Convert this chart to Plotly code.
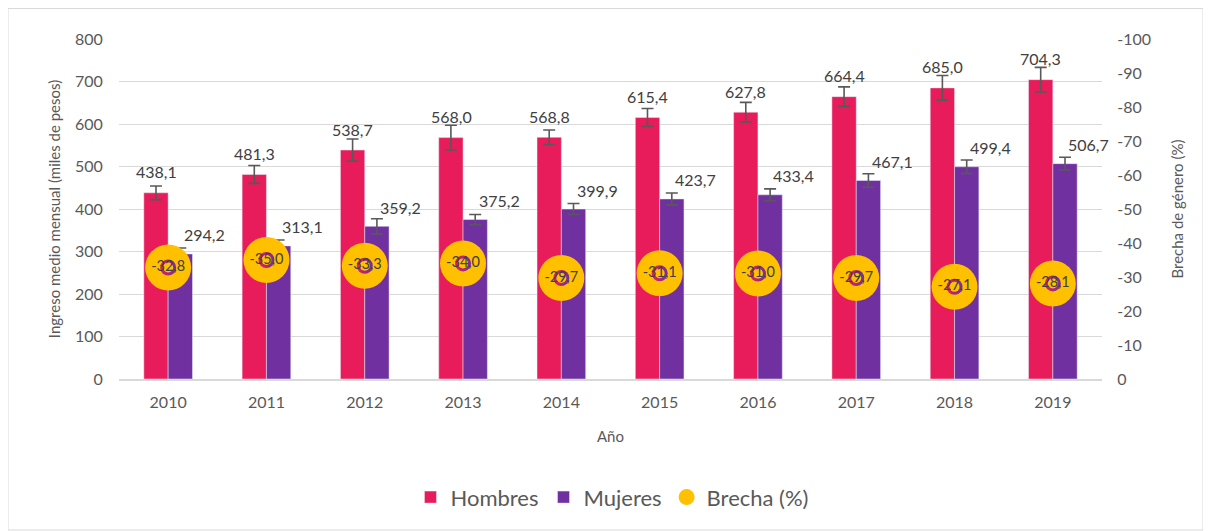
import plotly.graph_objects as go

years = ["2010", "2011", "2012", "2013", "2014", "2015", "2016", "2017", "2018", "2019"]
hombres = [438.1, 481.3, 538.7, 568.0, 568.8, 615.4, 627.8, 664.4, 685.0, 704.3]
mujeres = [294.2, 313.1, 359.2, 375.2, 399.9, 423.7, 433.4, 467.1, 499.4, 506.7]
brecha = [-32.8, -35.0, -33.3, -34.0, -29.7, -31.1, -31.0, -29.7, -27.1, -28.1]
err_h = [16, 21, 26, 29, 17, 21, 23, 23, 29, 29]
err_m = [14, 14, 18, 12, 13, 14, 14, 16, 16, 15]
brecha_ticks = [0, -10, -20, -30, -40, -50, -60, -70, -80, -90, -100]

C_H = "#E81B5B"
C_M = "#7030A0"
C_B = "#FFC000"
TXT = "#595959"
LBL = "#404040"
GRID = "#D9D9D9"
FONT = "Lato, Open Sans, sans-serif"

def fmt(v):
    return f"{v:.1f}".replace(".", ",")

fig = go.Figure()
fig.add_trace(go.Bar(
    x=years, y=hombres, name="Hombres", marker_color=C_H,
    error_y=dict(type="data", array=err_h, color="#595959", thickness=1.6, width=6),
))
fig.add_trace(go.Bar(
    x=years, y=mujeres, name="Mujeres", marker_color=C_M,
    error_y=dict(type="data", array=err_m, color="#595959", thickness=1.6, width=6),
))
fig.add_trace(go.Scatter(
    x=years, y=brecha, name="Brecha (%)", yaxis="y2", mode="markers",
    marker=dict(color=C_B, size=46, line=dict(width=0)),
))
# inner two-tone ring
fig.add_trace(go.Scatter(
    x=years, y=brecha, yaxis="y2", mode="markers", showlegend=False, hoverinfo="skip",
    marker=dict(color=C_H, size=16, line=dict(width=0),
                gradient=dict(type="horizontal", color=C_M)),
))
fig.add_trace(go.Scatter(
    x=years, y=brecha, yaxis="y2", mode="markers", showlegend=False, hoverinfo="skip",
    marker=dict(color=C_B, size=10, line=dict(width=0)),
))
fig.add_trace(go.Scatter(
    x=years, y=brecha, yaxis="y2", mode="text", showlegend=False, hoverinfo="skip",
    text=[fmt(v) for v in brecha], textposition="middle center",
    textfont=dict(family=FONT, size=14.5, color=LBL),
))

annotations = []
for i, (h, m) in enumerate(zip(hombres, mujeres)):
    annotations.append(dict(x=i, y=h, xref="x", yref="y", text=fmt(h), showarrow=False,
                            xshift=-12, yshift=21, yanchor="middle",
                            font=dict(family=FONT, size=16, color=LBL)))
    annotations.append(dict(x=i, y=m, xref="x", yref="y", text=fmt(m), showarrow=False,
                            xshift=36, yshift=19, yanchor="middle",
                            font=dict(family=FONT, size=16, color=LBL)))

# page body has an 8px margin, so the figure is drawn 8px in from the window corner
W, H = 1203, 523
L, T = 111, 31
pw, ph = 983, 340
R, B = W - L - pw, H - T - ph
shapes = [dict(type="rect", xref="paper", yref="paper",
               x0=(0 - L) / pw, x1=(1195 - L) / pw,
               y0=(H - B - 522) / ph, y1=(H - B - 0.5) / ph,
               line=dict(color=GRID, width=1), fillcolor="rgba(0,0,0,0)", layer="below")]

fig.update_layout(
    width=W, height=H, margin=dict(l=L, r=R, t=T, b=B, autoexpand=False),
    paper_bgcolor="white", plot_bgcolor="white",
    font=dict(family=FONT, color=TXT),
    barmode="group", bargap=0.505, bargroupgap=0,
    showlegend=True,
    legend=dict(orientation="h", x=0.502, xanchor="center", y=-0.348, yanchor="middle",
                font=dict(family=FONT, size=22, color=TXT),
                traceorder="normal", itemwidth=30, tracegroupgap=0),
    xaxis=dict(type="category", range=[-0.5, len(years) - 0.5],
               showgrid=False, showline=True, linecolor=GRID, linewidth=1.5,
               tickfont=dict(size=16, color=TXT), ticks="outside", ticklen=8,
               tickcolor="rgba(0,0,0,0)", automargin=False,
               title=dict(text="Año", font=dict(size=15, color=TXT), standoff=22)),
    yaxis=dict(range=[0, 800], dtick=100, showgrid=True, gridcolor=GRID, gridwidth=1.2,
               zeroline=False, showline=False, ticks="outside", ticklen=12,
               tickcolor="rgba(0,0,0,0)", tickfont=dict(size=16, color=TXT), automargin=False,
               title=dict(text="Ingreso medio mensual (miles de pesos)",
                          font=dict(size=15, color=TXT), standoff=10)),
    yaxis2=dict(overlaying="y", side="right", range=[0, -100],
                tickvals=brecha_ticks, ticktext=[str(t) for t in brecha_ticks],
                showgrid=False, zeroline=False, showline=False, ticks="outside", ticklen=11,
                tickcolor="rgba(0,0,0,0)", tickfont=dict(size=16, color=TXT), automargin=False,
                title=dict(text="Brecha de género (%)", font=dict(size=15, color=TXT),
                           standoff=22)),
    annotations=annotations, shapes=shapes,
)

fig.write_html("out.html")
